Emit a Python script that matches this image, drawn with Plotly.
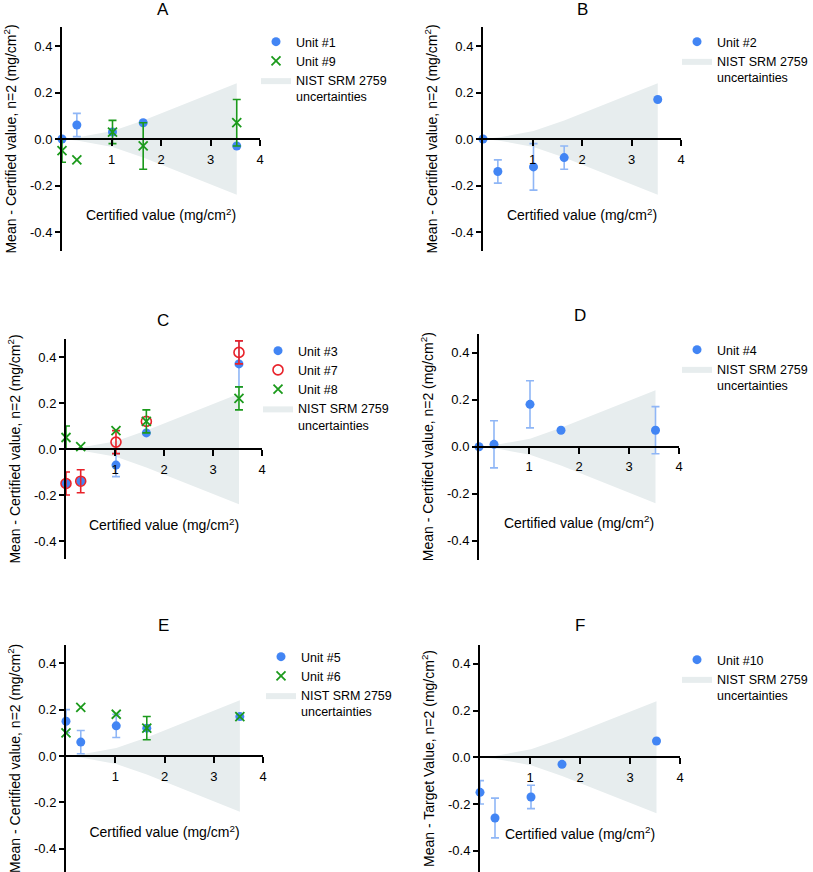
import numpy as np
import plotly.graph_objects as go

nan = np.nan

# ---------------- data ----------------
cert_x = [0.0, 0.30, 1.02, 1.64, 3.53]          # certified values (mg/cm2)
band_x = [0.0, 0.30, 1.02, 1.64, 3.53]
band_u = [0.0, 0.006, 0.034, 0.080, 0.240]       # NIST SRM 2759 uncertainty (+/-)

# Panel A
u1_y = [0.00, 0.06, 0.03, 0.07, -0.03]
u1_e = [nan, 0.05, nan, nan, nan]
u9_y = [-0.05, -0.09, 0.03, -0.03, 0.07]
u9_e = [0.05, nan, 0.05, 0.10, 0.10]
# Panel B
u2_y = [0.00, -0.14, -0.12, -0.08, 0.17]
u2_e = [nan, 0.05, 0.10, 0.05, nan]
# Panel C
u3_y = [-0.15, -0.14, -0.07, 0.07, 0.37]
u3_e = [nan, nan, 0.05, nan, 0.10]
u7_y = [-0.15, -0.14, 0.03, 0.12, 0.42]
u7_e = [0.05, 0.05, 0.05, nan, 0.05]
u8_y = [0.05, 0.01, 0.08, 0.12, 0.22]
u8_e = [0.05, nan, nan, 0.05, 0.05]
# Panel D
u4_y = [0.00, 0.01, 0.18, 0.07, 0.07]
u4_e = [nan, 0.10, 0.10, nan, 0.10]
# Panel E
u5_y = [0.15, 0.06, 0.13, 0.12, 0.17]
u5_e = [0.05, 0.05, 0.05, nan, nan]
u6_y = [0.10, 0.21, 0.18, 0.12, 0.17]
u6_e = [nan, nan, nan, 0.05, nan]
# Panel F
u10_y = [-0.15, -0.26, -0.17, -0.03, 0.07]
u10_e = [0.05, 0.085, 0.05, nan, nan]

y_tickvals = [-0.4, -0.2, 0.0, 0.2, 0.4]
y_ticktext = ["-0.4", "-0.2", "0.0", "0.2", "0.4"]
x_tickvals = [1, 2, 3, 4]
x_ticktext = ["1", "2", "3", "4"]

panel_titles = ["A", "B", "C", "D", "E", "F"]
ytitle_cert = "Mean - Certified value, n=2 (mg/cm<sup>2</sup>)"
ytitle_target = "Mean - Target Value, n=2 (mg/cm<sup>2</sup>)"
xtitle = "Certified value (mg/cm<sup>2</sup>)"
band_name = "NIST SRM 2759<br>uncertainties"

series = [
    [("Unit #1", u1_y, u1_e, "blue"), ("Unit #9", u9_y, u9_e, "green")],
    [("Unit #2", u2_y, u2_e, "blue")],
    [("Unit #3", u3_y, u3_e, "blue"), ("Unit #7", u7_y, u7_e, "red"), ("Unit #8", u8_y, u8_e, "green")],
    [("Unit #4", u4_y, u4_e, "blue")],
    [("Unit #5", u5_y, u5_e, "blue"), ("Unit #6", u6_y, u6_e, "green")],
    [("Unit #10", u10_y, u10_e, "blue")],
]
ytitles = [ytitle_cert] * 5 + [ytitle_target]

# ---------------- layout geometry (pixels) ----------------
W, H = 813, 872
geom = [
    dict(x0=62, x4=260, yz=139.0, k=232.5, yr=[-0.48, 0.48], tx=163, ty=10, lx=256, lanchor="left", ly=27),
    dict(x0=483, x4=681, yz=139.0, k=232.5, yr=[-0.48, 0.48], tx=582, ty=10, lx=813, lanchor="right", ly=27),
    dict(x0=66, x4=262, yz=449.0, k=230.0, yr=[-0.48, 0.48], tx=163, ty=320, lx=258, lanchor="left", ly=336),
    dict(x0=479, x4=679, yz=446.7, k=235.5, yr=[-0.48, 0.48], tx=580, ty=315, lx=813, lanchor="right", ly=335),
    dict(x0=66, x4=263, yz=756.0, k=232.0, yr=[-0.50, 0.48], tx=163, ty=625, lx=261, lanchor="left", ly=642),
    dict(x0=480, x4=680, yz=757.3, k=233.5, yr=[-0.49, 0.48], tx=580, ty=625, lx=813, lanchor="right", ly=645),
]

styles = {
    "blue": dict(symbol="circle", size=9, color="#4285f4", line=dict(width=0), err="#8fb6f6"),
    "green": dict(symbol="x-thin", size=9, color="#1c9a1c", line=dict(width=1.8, color="#1c9a1c"), err="#1c9a1c"),
    "red": dict(symbol="circle-open", size=10, color="#e8222a", line=dict(width=1.6, color="#e8222a"), err="#e8222a"),
}

FONT = "Arial, Liberation Sans, Helvetica, sans-serif"

fig = go.Figure()
layout = dict(
    width=W, height=H, autosize=False,
    margin=dict(l=0, r=0, t=0, b=0, autoexpand=False),
    paper_bgcolor="white", plot_bgcolor="white",
    font=dict(family=FONT, size=13, color="black"),
    annotations=[],
)

for i, g in enumerate(geom):
    n = i + 1
    sfx = "" if n == 1 else str(n)
    xa, ya = "x" + sfx, "y" + sfx
    leg = "legend" + sfx

    top_px = g["yz"] - g["yr"][1] * g["k"]
    bot_px = g["yz"] - g["yr"][0] * g["k"]
    ydom = [max(0.0, 1 - bot_px / H), min(1.0, 1 - top_px / H)]
    xdom = [g["x0"] / W, g["x4"] / W]

    # uncertainty band
    bx = list(band_x) + list(band_x[::-1])
    by = list(band_u) + [-v for v in band_u[::-1]]
    fig.add_trace(go.Scatter(
        x=bx, y=by, fill="toself", mode="lines",
        line=dict(width=0, color="#e7edee"), fillcolor="#e7edee",
        name=band_name, legend=leg, legendrank=1000,
        xaxis=xa, yaxis=ya, hoverinfo="skip",
    ))

    for j, (name, yv, ev, st) in enumerate(series[i]):
        s = styles[st]
        fig.add_trace(go.Scatter(
            x=cert_x, y=yv, mode="markers", name=name,
            marker=dict(symbol=s["symbol"], size=s["size"], color=s["color"], line=s["line"]),
            error_y=dict(type="data", array=np.array(ev, dtype=float), visible=True,
                         color=s["err"], thickness=1.6, width=4),
            cliponaxis=False, legend=leg, legendrank=j + 1,
            xaxis=xa, yaxis=ya,
        ))

    layout["xaxis" + sfx] = dict(
        domain=xdom, range=[0, 4], anchor="free", position=1 - g["yz"] / H,
        showline=True, linecolor="black", linewidth=2,
        showgrid=False, zeroline=False,
        ticks="outside", ticklen=6, tickwidth=1.5, tickcolor="black",
        tickvals=x_tickvals, ticktext=x_ticktext,
        tickfont=dict(size=13), ticklabelstandoff=2,
        title=dict(text=xtitle, font=dict(size=14), standoff=44),
        fixedrange=True,
    )
    layout["yaxis" + sfx] = dict(
        domain=ydom, range=g["yr"], anchor=xa, side="left",
        showline=True, linecolor="black", linewidth=2,
        showgrid=False, zeroline=False,
        ticks="outside", ticklen=5, tickwidth=1.5, tickcolor="black",
        tickvals=y_tickvals, ticktext=y_ticktext,
        tickfont=dict(size=13),
        title=dict(text=ytitles[i], font=dict(size=14), standoff=10),
        fixedrange=True,
    )
    layout[leg] = dict(
        x=g["lx"] / W, y=1 - g["ly"] / H, xanchor=g["lanchor"], yanchor="top",
        bgcolor="rgba(0,0,0,0)", borderwidth=0,
        font=dict(size=12.5, color="black"), valign="top",
        traceorder="normal", tracegroupgap=0,
    )
    layout["annotations"].append(dict(
        text=panel_titles[i], x=g["tx"] / W, y=1 - g["ty"] / H,
        xref="paper", yref="paper", xanchor="center", yanchor="middle",
        showarrow=False, font=dict(size=17, color="black"),
    ))

fig.update_layout(**layout)
fig.write_html("out.html")
